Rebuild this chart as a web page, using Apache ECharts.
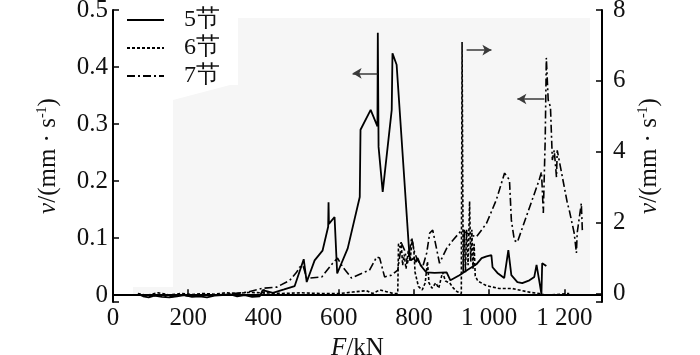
<!DOCTYPE html>
<html><head><meta charset="utf-8">
<script src="https://cdn.jsdelivr.net/npm/echarts@6/dist/echarts.min.js"></script>
<style>html,body{margin:0;padding:0;background:#fff}#c{width:700px;height:355px}</style>
</head><body><div id="c"></div>
<script>
// Data
const seriesNames = ['5节', '6节', '7节'];
const xTicks = [0, 200, 400, 600, 800, 1000, 1200];

// 5节 (left axis, mm/s)
const f5 = [66,80,95,110,130,150,170,190,210,230,250,270,290,310,330,350,370,390,398,425,455,483,507,515,536,557,572,573,574,589,596,624,656,658,685,703,704,706,717,741,743,754,788,792,800,805,810,818,833,855,887,897,921,942,966,980,993,1006,1009,1022,1040,1051,1059,1075,1088,1107,1120,1126,1133,1139,1141,1152];
const v5 = [0.002,-0.002,-0.004,-0.001,-0.003,-0.004,-0.002,0.000,-0.003,-0.002,-0.004,-0.001,0.000,0.002,-0.002,0.000,-0.003,-0.002,0.009,0.004,0.010,0.016,0.063,0.023,0.061,0.078,0.120,0.163,0.125,0.137,0.038,0.082,0.172,0.290,0.325,0.296,0.460,0.260,0.181,0.325,0.424,0.404,0.070,0.061,0.065,0.058,0.065,0.052,0.040,0.039,0.040,0.026,0.035,0.044,0.054,0.065,0.068,0.070,0.049,0.039,0.030,0.079,0.035,0.023,0.021,0.026,0.032,0.053,0.026,0.002,0.056,0.051];

// 6节 (right axis, mm/s)
const f6 = [66,90,120,150,180,210,240,270,300,330,360,400,450,500,550,603,637,674,690,709,727,745,757,759,763,766,770,774,779,785,790,795,800,803,812,822,830,836,840,848,858,866,876,884,895,905,915,926,928,931,934,937,940,944,948,951,954,957,960,963,970,993,1027,1062,1088,1110,1133,1152,1213];
const v6 = [0.0,-0.05,0.02,-0.04,0.0,-0.03,0.0,-0.02,0.02,0.0,0.03,0.02,0.0,0.02,0.0,0.0,0.04,0.08,0.0,0.1,0.05,0.0,0.0,1.4,1.3,1.45,0.8,1.1,0.7,1.2,0.9,1.55,1.2,0.6,0.2,0.1,0.3,0.9,0.3,0.15,0.3,0.15,0.6,0.35,0.3,0.15,0.05,0.0,7.1,0.6,1.8,0.6,1.8,0.8,2.6,0.9,1.8,0.7,1.4,0.5,0.35,0.22,0.14,0.14,0.08,0.03,0.0,-0.05,0.0];

// 7节 (left axis, mm/s)
const f7 = [66,90,120,150,180,210,240,270,310,355,398,435,470,488,496,505,515,523,555,584,597,611,634,664,682,701,709,722,740,757,762,767,775,783,794,802,810,823,834,842,850,860,868,887,903,927,940,966,993,1019,1041,1054,1059,1067,1075,1133,1139,1141,1144,1149,1152,1157,1163,1168,1173,1179,1181,1186,1208,1213,1226,1232,1234,1245,1248];
const v7 = [0.001,-0.002,0.0,-0.003,0.0,-0.002,0.001,0.0,0.002,0.005,0.012,0.014,0.026,0.04,0.049,0.052,0.03,0.03,0.032,0.056,0.065,0.049,0.03,0.039,0.044,0.067,0.065,0.032,0.035,0.044,0.067,0.091,0.079,0.056,0.1,0.074,0.061,0.049,0.074,0.109,0.114,0.082,0.056,0.082,0.096,0.114,0.109,0.102,0.126,0.167,0.214,0.202,0.132,0.096,0.093,0.202,0.216,0.189,0.144,0.272,0.416,0.342,0.33,0.237,0.254,0.207,0.254,0.237,0.161,0.149,0.109,0.074,0.109,0.161,0.109];

// Annotation arrows (data coordinates: from -> to)
const arrow5 = [[703, 0.389], [637, 0.389]];
const arrow6 = [[940, 6.87], [1006, 6.87]];
const arrow7 = [[1147, 0.344], [1075, 0.344]];

const zip = (a, b) => a.map((x, i) => [x, b[i]]);
const FONT = 'Liberation Serif';

function arrowMark(pts) {
  return {
    silent: true,
    symbol: ['none', 'arrow'],
    symbolSize: [8, 9],
    label: { show: false },
    lineStyle: { color: '#3a3a3a', width: 1.5, type: 'solid' },
    emphasis: { disabled: true },
    data: [[{ coord: pts[0] }, { coord: pts[1] }]]
  };
}

const nameRich = {
  i: { fontFamily: FONT, fontStyle: 'italic', fontSize: 25, color: '#111' },
  n: { fontFamily: FONT, fontSize: 25, color: '#111' },
  s: { fontFamily: FONT, fontSize: 14, color: '#111', padding: [0, 0, 12, 0] }
};
const vName = '{i|v}{n|/(mm · s}{s|-1}{n|)}';

const chart = echarts.init(document.getElementById('c'), null, { renderer: 'canvas' });
chart.setOption({
  animation: false,
  backgroundColor: '#ffffff',
  graphic: [{
    type: 'polygon', z: -10, silent: true,
    shape: { points: [[238,18],[590,18],[590,296],[133,296],[133,287],[173,287],[173,100],[230,85],[238,85]] },
    style: { fill: '#f6f6f6' }
  }],
  grid: { left: 113, right: 98, top: 10, bottom: 53, containLabel: false, outerBoundsMode: 'none' },
  legend: {
    orient: 'vertical', left: 126, top: 8, padding: 0,
    itemWidth: 37, itemHeight: 14, itemGap: 4,
    itemStyle: { color: 'rgba(0,0,0,0)', borderWidth: 0, opacity: 0 },
    textStyle: { fontFamily: FONT, fontSize: 24, color: '#111', padding: [0, 0, 0, 15] },
    data: seriesNames
  },
  xAxis: {
    type: 'value', min: 0, max: 1300, interval: 200,
    name: '{i|F}{n|/kN}', nameLocation: 'middle', nameGap: 30,
    nameTextStyle: { rich: nameRich },
    axisLine: { lineStyle: { color: '#000', width: 2 } },
    axisTick: { inside: true, length: 6, lineStyle: { color: '#000', width: 1.5 } },
    axisLabel: {
      fontFamily: FONT, fontSize: 25, color: '#111', margin: 4, showMaxLabel: false,
      formatter: v => xTicks.indexOf(v) >= 0 ? (v >= 1000 ? String(v).replace(/(\d)(\d{3})$/, '$1 $2') : String(v)) : ''
    },
    splitLine: { show: false }
  },
  yAxis: [{
    type: 'value', min: -0.012, max: 0.5, splitNumber: 5, minInterval: 0.1, maxInterval: 0.1,
    name: vName, nameLocation: 'middle', nameRotate: 90, nameGap: 52,
    nameTextStyle: { rich: nameRich },
    axisLine: { show: true, lineStyle: { color: '#000', width: 2 } },
    axisTick: { inside: true, length: 6, lineStyle: { color: '#000', width: 1.5 } },
    axisLabel: {
      fontFamily: FONT, fontSize: 25, color: '#111', margin: 5,
      formatter: v => (v < -1e-9 ? '' : (Math.abs(v) < 1e-9 ? '0' : v.toFixed(1)))
    },
    splitLine: { show: false }
  }, {
    type: 'value', min: -0.24, max: 8, splitNumber: 4, minInterval: 2, maxInterval: 2,
    name: vName, nameLocation: 'middle', nameRotate: 90, nameGap: 29,
    nameTextStyle: { rich: nameRich },
    axisLine: { show: true, lineStyle: { color: '#000', width: 2 } },
    axisTick: { inside: true, length: 6, lineStyle: { color: '#000', width: 1.5 } },
    axisLabel: {
      fontFamily: FONT, fontSize: 25, color: '#111', margin: 11,
      formatter: v => (v < -1e-9 ? '' : String(Math.round(v)))
    },
    splitLine: { show: false }
  }],
  series: [{
    name: seriesNames[0], type: 'line', yAxisIndex: 0, symbol: 'none',
    data: zip(f5, v5),
    lineStyle: { color: '#000', width: 1.8, type: 'solid' },
    itemStyle: { color: '#000' },
    markLine: arrowMark(arrow5)
  }, {
    name: seriesNames[1], type: 'line', yAxisIndex: 1, symbol: 'none',
    data: zip(f6, v6),
    lineStyle: { color: '#000', width: 1.6, type: [3, 2] },
    itemStyle: { color: '#000' },
    markLine: arrowMark(arrow6)
  }, {
    name: seriesNames[2], type: 'line', yAxisIndex: 0, symbol: 'none',
    data: zip(f7, v7),
    lineStyle: { color: '#000', width: 1.6, type: [8, 3, 2, 3] },
    itemStyle: { color: '#000' },
    markLine: arrowMark(arrow7)
  }]
});
</script>
</body></html>
